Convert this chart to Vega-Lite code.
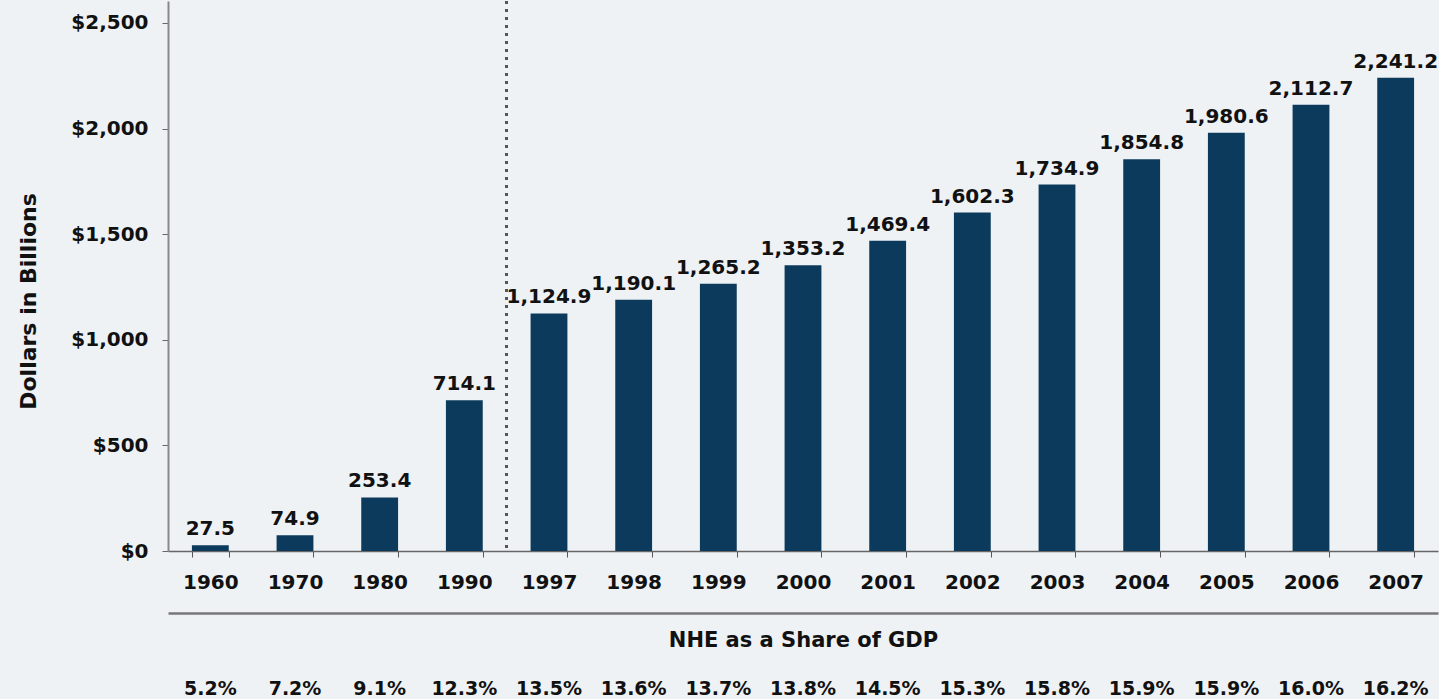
{
  "$schema": "https://vega.github.io/schema/vega-lite/v6.json",
  "background": "#eef2f5",
  "padding": {"left": 17, "top": 0, "right": 0, "bottom": 0},
  "bounds": "flush",
  "spacing": 62,
  "config": {
    "view": {"stroke": null},
    "font": "DejaVu Sans",
    "axis": {"labelFont": "DejaVu Sans", "labelFontWeight": "bold", "labelColor": "#111", "titleFont": "DejaVu Sans", "titleFontWeight": "bold", "titleColor": "#111", "grid": false}
  },
  "data": {
    "values": [
      {"year": "1960", "value": 27.5, "label": "27.5", "share": "5.2%"},
      {"year": "1970", "value": 74.9, "label": "74.9", "share": "7.2%"},
      {"year": "1980", "value": 253.4, "label": "253.4", "share": "9.1%"},
      {"year": "1990", "value": 714.1, "label": "714.1", "share": "12.3%"},
      {"year": "1997", "value": 1124.9, "label": "1,124.9", "share": "13.5%"},
      {"year": "1998", "value": 1190.1, "label": "1,190.1", "share": "13.6%"},
      {"year": "1999", "value": 1265.2, "label": "1,265.2", "share": "13.7%"},
      {"year": "2000", "value": 1353.2, "label": "1,353.2", "share": "13.8%"},
      {"year": "2001", "value": 1469.4, "label": "1,469.4", "share": "14.5%"},
      {"year": "2002", "value": 1602.3, "label": "1,602.3", "share": "15.3%"},
      {"year": "2003", "value": 1734.9, "label": "1,734.9", "share": "15.8%"},
      {"year": "2004", "value": 1854.8, "label": "1,854.8", "share": "15.9%"},
      {"year": "2005", "value": 1980.6, "label": "1,980.6", "share": "15.9%"},
      {"year": "2006", "value": 2112.7, "label": "2,112.7", "share": "16.0%"},
      {"year": "2007", "value": 2241.2, "label": "2,241.2", "share": "16.2%"}
    ]
  },
  "vconcat": [
    {
      "width": 1270,
      "height": 550,
      "encoding": {
        "x": {
          "field": "year", "type": "nominal", "sort": null,
          "scale": {"paddingInner": 0.565, "paddingOuter": 0.2825},
          "axis": {"title": null, "labelAngle": 0, "labelFontSize": 20, "labelPadding": 15, "tickBand": "extent", "tickSize": 6, "tickColor": "#555", "domainColor": "#666", "domainWidth": 1.5}
        }
      },
      "layer": [
        {
          "mark": {"type": "bar", "color": "#0c3a5c"},
          "encoding": {
            "y": {
              "field": "value", "type": "quantitative",
              "scale": {"domain": [0, 2604], "nice": false},
              "axis": {"values": [0, 500, 1000, 1500, 2000, 2500], "format": "$,.0f", "labelFontSize": 20, "labelPadding": 14, "tickSize": 6, "tickColor": "#666", "domainColor": "#888", "domainWidth": 2, "title": "Dollars in Billions", "titleFontSize": 22, "titlePadding": 30, "titleY": 300}
            }
          }
        },
        {
          "mark": {"type": "text", "baseline": "bottom", "dy": -6, "fontSize": 20, "fontWeight": "bold", "color": "#111"},
          "encoding": {
            "y": {"field": "value", "type": "quantitative"},
            "text": {"field": "label"}
          }
        },
        {
          "mark": {"type": "rule", "strokeDash": [2.5, 5.5], "color": "#555", "strokeWidth": 2},
          "encoding": {
            "x": {"datum": "1997", "type": "nominal", "bandPosition": -0.65}
          }
        }
      ]
    },
    {
      "width": 1270,
      "height": 76,
      "encoding": {
        "x": {
          "field": "year", "type": "nominal", "sort": null,
          "scale": {"paddingInner": 0.565, "paddingOuter": 0.2825},
          "axis": {"orient": "top", "labels": false, "ticks": false, "domainColor": "#777", "domainWidth": 2.5, "title": "NHE as a Share of GDP", "titleFontSize": 21, "titleY": 27, "titleBaseline": "middle"}
        }
      },
      "layer": [
        {
          "mark": {"type": "text", "baseline": "middle", "fontSize": 19, "fontWeight": "bold", "color": "#111"},
          "encoding": {
            "y": {"datum": 0, "type": "quantitative", "scale": {"domain": [0, 1]}, "axis": null},
            "text": {"field": "share"}
          }
        }
      ]
    }
  ]
}
